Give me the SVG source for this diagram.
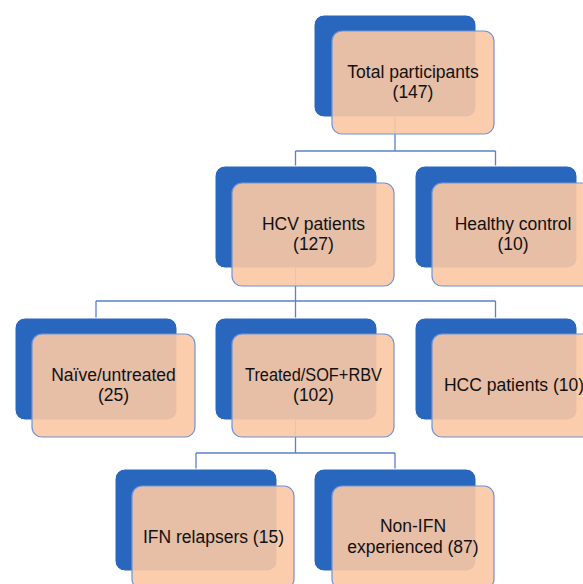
<svg xmlns="http://www.w3.org/2000/svg" width="583" height="584" viewBox="0 0 583 584">
<style>
.back{fill:#2966BE;stroke:#ffffff;stroke-width:1}
.front{fill:#FCC8A3;fill-opacity:0.9;stroke:#6F93D6;stroke-width:1.2}
.conn{fill:none;stroke:#5B82C9;stroke-width:1.3}
text{font-family:"Liberation Sans",Arial,sans-serif;font-size:17.5px;fill:#111111;text-anchor:middle}
</style>
<rect x="0" y="0" width="583" height="584" fill="#ffffff"/>
<g id="connectors">
<path class="conn" d="M395,117 V151 M295.5,151 H495.5 M295.5,151 V166 M495.5,151 V166"/>
<path class="conn" d="M295.5,268 V301 M96,301 H495.5 M96,301 V318 M295.5,301 V318 M495.5,301 V318"/>
<path class="conn" d="M295.5,420 V453 M196,453 H395 M196,453 V469 M395,453 V469"/>
</g>
<g id="n-total">
<rect class="back" x="314" y="15" width="162" height="102" rx="10"/>
<rect class="front" x="332" y="31" width="162" height="103" rx="10"/>
<text x="413" y="78">Total participants</text>
<text x="413" y="98">(147)</text>
</g>
<g id="n-hcv">
<rect class="back" x="215" y="166" width="162" height="102" rx="10"/>
<rect class="front" x="232" y="183" width="162" height="103" rx="10"/>
<text x="313.5" y="230">HCV patients</text>
<text x="313.5" y="250">(127)</text>
</g>
<g id="n-healthy">
<rect class="back" x="415" y="166" width="162" height="102" rx="10"/>
<rect class="front" x="432" y="183" width="162" height="103" rx="10"/>
<text x="513" y="230">Healthy control</text>
<text x="513" y="250">(10)</text>
</g>
<g id="n-naive">
<rect class="back" x="15" y="318" width="162" height="102" rx="10"/>
<rect class="front" x="32" y="334" width="163" height="103" rx="10"/>
<text x="113.5" y="381">Naïve/untreated</text>
<text x="113.5" y="401">(25)</text>
</g>
<g id="n-treated">
<rect class="back" x="215" y="318" width="162" height="102" rx="10"/>
<rect class="front" x="232" y="334" width="162" height="103" rx="10"/>
<text x="313.5" y="381" textLength="137" lengthAdjust="spacingAndGlyphs">Treated/SOF+RBV</text>
<text x="313.5" y="401">(102)</text>
</g>
<g id="n-hcc">
<rect class="back" x="415" y="318" width="162" height="102" rx="10"/>
<rect class="front" x="432" y="334" width="162" height="103" rx="10"/>
<text x="514" y="391">HCC patients (10)</text>
</g>
<g id="n-ifn">
<rect class="back" x="115" y="469" width="162" height="102" rx="10"/>
<rect class="front" x="132" y="486" width="162" height="103" rx="10"/>
<text x="213.5" y="543">IFN relapsers (15)</text>
</g>
<g id="n-nonifn">
<rect class="back" x="314" y="469" width="162" height="102" rx="10"/>
<rect class="front" x="332" y="486" width="162" height="103" rx="10"/>
<text x="413" y="532">Non-IFN</text>
<text x="413" y="553">experienced (87)</text>
</g>
</svg>
